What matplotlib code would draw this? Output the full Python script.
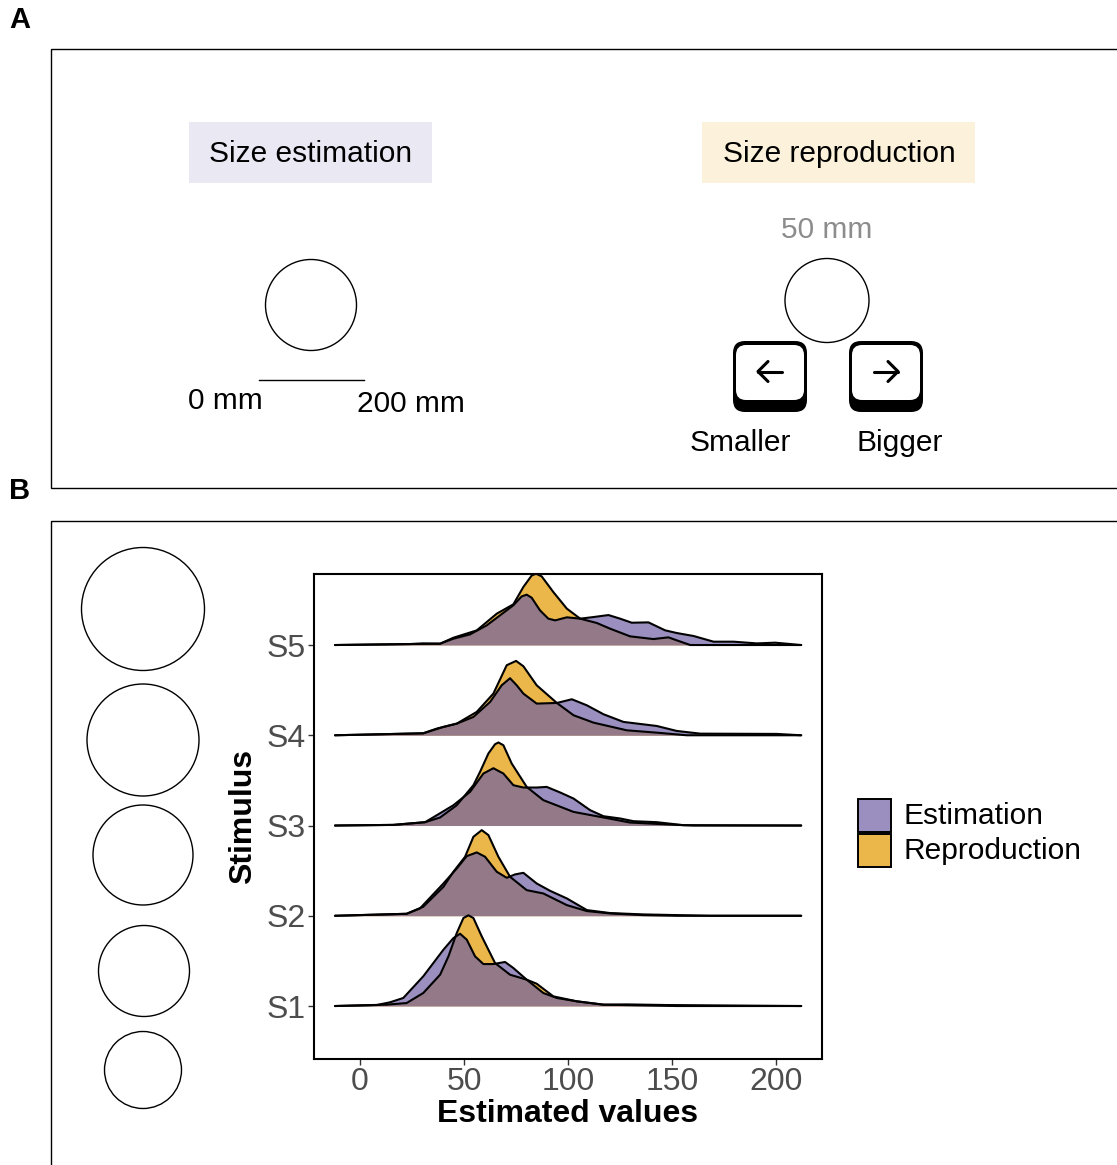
import matplotlib
matplotlib.use('Agg')
import matplotlib.pyplot as plt
from matplotlib.patches import Rectangle, Circle, FancyBboxPatch

plt.rcParams['font.family'] = ['Liberation Sans', 'DejaVu Sans']

# values: x in estimated value, h in ridge heights
s1_est_x = [-12, 8, 14.4, 20.8, 30.4, 40.1, 44.9, 48.1, 51.3, 55.3, 59.3, 64.1, 69.7, 73.7, 80.1, 88.1, 94.6, 104.2, 117, 128.2, 147.4, 212]
s1_est_h = [0, .011, .041, .089, .329, .624, .753, .801, .735, .55, .465, .465, .488, .421, .292, .144, .089, .052, .015, .018, .011, 0]
s1_rep_x = [-12, 12.8, 22.4, 30.4, 38.5, 42.5, 46.5, 49.7, 52.1, 54.5, 58.5, 64.9, 72.1, 80.1, 84.9, 92.9, 104.2, 117, 136.2, 152.2, 212]
s1_rep_h = [0, .015, .033, .144, .347, .55, .809, .975, 1.005, .975, .772, .476, .347, .292, .247, .107, .052, .015, .007, 0, 0]

s2_est_x = [-12, 22.4, 28.8, 40.1, 46.5, 51.3, 56.1, 60.1, 65.7, 70.5, 74.5, 78.5, 84.9, 91.3, 99.4, 109, 120.2, 136.2, 168.3, 212]
s2_est_h = [0, .022, .081, .358, .524, .661, .702, .654, .488, .421, .458, .476, .358, .277, .192, .063, .03, .015, 0, 0]
s2_rep_x = [-12, 22.4, 30.4, 40.1, 44.9, 50.5, 54.5, 58.5, 61.7, 66.5, 72.1, 80.1, 88.1, 99.4, 109, 120.2, 136.2, 152.2, 212]
s2_rep_h = [0, .022, .1, .321, .488, .654, .875, .949, .894, .654, .432, .284, .247, .118, .052, .026, .007, 0, 0]

s3_est_x = [-12, 16, 31.3, 36.9, 44.9, 52.9, 59.3, 64.1, 68.9, 73.7, 78.5, 84.9, 89.7, 96.2, 102.6, 110.6, 117, 125, 131.4, 142.6, 155.4, 212]
s3_est_h = [0, .007, .037, .114, .225, .373, .576, .635, .576, .447, .421, .421, .428, .366, .299, .17, .103, .078, .048, .037, .004, 0]
s3_rep_x = [-12, 16, 31.3, 38.5, 46.5, 54.5, 57.7, 61.7, 64.9, 66.5, 68.9, 72.9, 80.1, 88.1, 102.6, 117, 129.8, 152.2, 160.3, 212]
s3_rep_h = [0, .007, .037, .089, .225, .447, .595, .798, .901, .92, .89, .687, .428, .281, .151, .089, .033, .007, 0, 0]

s4_est_x = [-12, 30.4, 40, 46.5, 54.5, 62.5, 68.1, 72.1, 75.3, 78.5, 84.9, 94.6, 101.8, 109, 117, 126.6, 142.6, 152.2, 163.5, 200.3, 212]
s4_est_h = [0, .022, .092, .129, .203, .369, .554, .632, .554, .462, .351, .358, .399, .332, .233, .148, .103, .048, .018, .015, 0]
s4_rep_x = [-12, 30.4, 36.9, 46.5, 56.1, 64.1, 70.5, 75, 78.5, 84.9, 94.6, 102.6, 112.2, 128.2, 144.2, 157, 212]
s4_rep_h = [0, .022, .074, .129, .259, .462, .776, .824, .765, .554, .358, .222, .14, .055, .026, 0, 0]

s5_est_x = [-12, 24, 30.4, 38.5, 44.9, 52.9, 60.9, 67.3, 73.7, 77.7, 80.1, 82.5, 86.5, 90.5, 93.8, 99.4, 105.8, 112.2, 119.4, 125, 130.6, 138.6, 146.6, 152.2, 160.3, 169.9, 179.5, 190.7, 199.5, 212]
s5_est_h = [0, .011, .018, .015, .07, .118, .218, .329, .44, .539, .558, .524, .384, .292, .273, .307, .292, .31, .332, .292, .247, .251, .163, .133, .1, .037, .037, .018, .026, 0]
s5_rep_x = [-12, 38.5, 44.9, 56.1, 65.7, 73.7, 78.5, 82.5, 84.6, 87.3, 92.9, 99.4, 105.8, 113.8, 120.2, 129.8, 141, 148.2, 152.2, 158.7, 212]
s5_rep_h = [0, .015, .081, .162, .347, .451, .643, .77, .79, .761, .587, .403, .292, .244, .181, .096, .066, .085, .052, 0, 0]

stimuli = ['S1', 'S2', 'S3', 'S4', 'S5']
est_x = [s1_est_x, s2_est_x, s3_est_x, s4_est_x, s5_est_x]
est_h = [s1_est_h, s2_est_h, s3_est_h, s4_est_h, s5_est_h]
rep_x = [s1_rep_x, s2_rep_x, s3_rep_x, s4_rep_x, s5_rep_x]
rep_h = [s1_rep_h, s2_rep_h, s3_rep_h, s4_rep_h, s5_rep_h]
x_ticks = [0, 50, 100, 150, 200]

purple = '#6f60a5'
orange = '#ebb74a'
W, H = 1117, 1165

fig = plt.figure(figsize=(W / 100, H / 100), dpi=100)

# overlay in pixel coordinates for the panels and drawings
bg = fig.add_axes([0, 0, 1, 1])
bg.set_xlim(0, W)
bg.set_ylim(H, 0)
bg.axis('off')

def txt(x, y, s, size=21.5, **kw):
    bg.text(x, y, s, fontsize=size, ha=kw.pop('ha', 'center'), va='center', **kw)

# panel frames
bg.add_patch(Rectangle((51, 48.5), 1100, 439, fc='none', ec='k', lw=1))
bg.add_patch(Rectangle((51, 520.5), 1100, 700, fc='none', ec='k', lw=1))
txt(20, 20, 'A', size=21, fontweight='bold')
txt(20, 491, 'B', size=21, fontweight='bold')

# panel A
bg.add_patch(Rectangle((189, 122), 243, 61, fc='#eae8f3', ec='none'))
bg.add_patch(Rectangle((702, 122), 273, 61, fc='#fcf1da', ec='none'))
txt(311, 154, 'Size estimation')
txt(839, 154, 'Size reproduction')
txt(827, 230, '50 mm', color='#8c8c8c')
bg.add_patch(Circle((311, 305), 45.5, fc='none', ec='k', lw=1))
bg.add_patch(Circle((827, 300.5), 42, fc='none', ec='k', lw=1))
bg.plot([259, 364], [380, 380], color='k', lw=1)
txt(225, 401, '0 mm')
txt(411, 404, '200 mm')
txt(740, 443, 'Smaller')
txt(900, 443, 'Bigger')

# keycaps
for left, direction in [(733, -1), (849, 1)]:
    bg.add_patch(FancyBboxPatch((left + 12, 353), 50, 47, boxstyle='round,pad=12,rounding_size=12',
                                fc='k', ec='none'))
    bg.add_patch(FancyBboxPatch((left + 13, 355), 48, 35, boxstyle='round,pad=10,rounding_size=10',
                                fc='w', ec='none'))
    c = left + 37
    bg.plot([c - 12, c + 12], [371.5, 371.5], color='k', lw=2.2, solid_capstyle='round')
    tip = c + 12 * direction
    bg.plot([tip - 10 * direction, tip, tip - 10 * direction], [361.5, 371.5, 381.5], color='k', lw=2.2,
            solid_capstyle='round', solid_joinstyle='round')

# panel B circles
for cx, cy, r in [(143, 609, 61.5), (143, 740, 56), (143, 855, 50), (144, 971, 45.5), (143, 1070, 38.5)]:
    bg.add_patch(Circle((cx, cy), r, fc='none', ec='k', lw=1))

# legend
bg.add_patch(Rectangle((858, 798.5), 33, 33, fc=purple, alpha=.7, ec='none'))
bg.add_patch(Rectangle((858, 798.5), 33, 33, fc='none', ec='k', lw=1.4))
bg.add_patch(Rectangle((858, 833.5), 33, 33, fc=orange, ec='k', lw=1.4))
txt(904, 816, 'Estimation', ha='left')
txt(904, 851, 'Reproduction', ha='left')

# ridgeline plot
ax = fig.add_axes([314 / W, 1 - 1059 / H, 508 / W, 485 / H])
ax.patch.set_alpha(0)
for i in range(4, -1, -1):
    base = i + 1
    ax.fill_between(rep_x[i], base, [base + h for h in rep_h[i]], color=orange, lw=0)
    ax.plot(rep_x[i], [base + h for h in rep_h[i]], color='k', lw=1.5, solid_capstyle='round')
    ax.fill_between(est_x[i], base, [base + h for h in est_h[i]], color=purple, alpha=.7, lw=0)
    ax.plot(est_x[i], [base + h for h in est_h[i]], color='k', lw=1.5, solid_capstyle='round')

ax.set_xlim(-22.1, 222)
ax.set_ylim(.413, 5.787)
ax.set_xticks(x_ticks)
ax.set_yticks(range(1, 6))
ax.set_yticklabels(stimuli)
ax.tick_params(labelsize=23, labelcolor='#4d4d4d', color='#333333', length=4, width=1, pad=2)
for sp in ax.spines.values():
    sp.set_linewidth(1.5)
ax.set_xlabel('Estimated values', fontsize=23, fontweight='bold', labelpad=1)
ax.set_ylabel('Stimulus', fontsize=23, fontweight='bold', labelpad=6)

fig.savefig('out.png', dpi=100)
